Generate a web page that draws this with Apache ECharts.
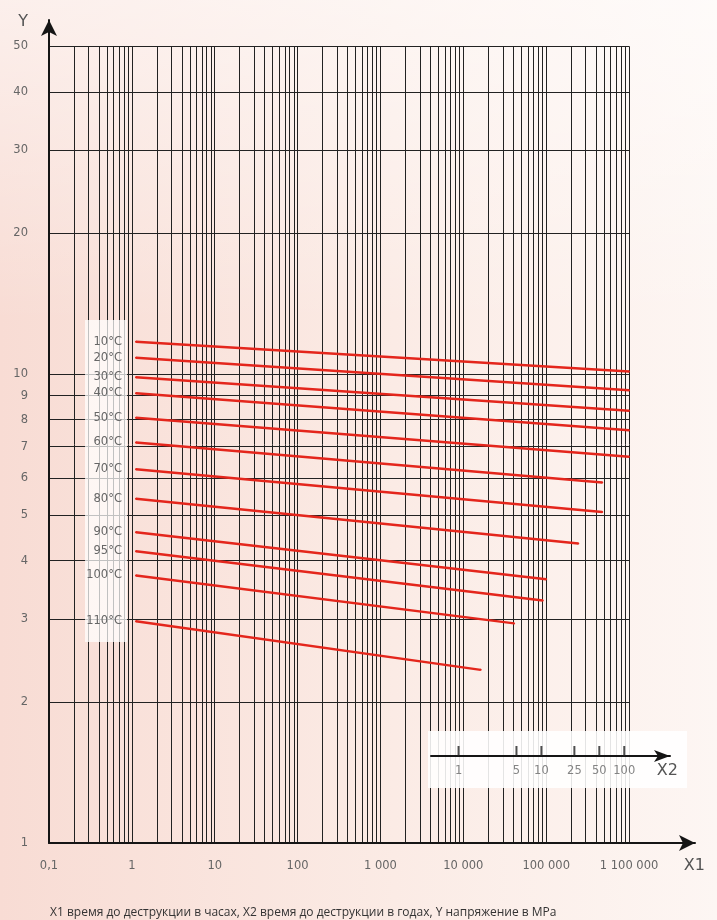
<!DOCTYPE html>
<html>
<head>
<meta charset="utf-8">
<script src="https://cdn.jsdelivr.net/npm/echarts@6/dist/echarts.min.js"></script>
<style>
html,body{margin:0;padding:0;}
#c{width:717px;height:920px;
background:
 linear-gradient(to bottom, rgba(255,255,255,0.55) 0%, rgba(255,255,255,0) 35%),
 linear-gradient(to right, #f8dcd4 0%, #fbebe5 55%, #fdf6f3 100%);}
</style>
</head>
<body>
<div id="c"></div>
<script>
// ---- data ----
const temperatures = ['10°C','20°C','30°C','40°C','50°C','60°C','70°C','80°C','90°C','95°C','100°C','110°C'];
const lineStartHours = [1.12,1.12,1.12,1.12,1.12,1.12,1.12,1.12,1.12,1.12,1.12,1.12];
const lineStartMPa   = [11.72,10.83,9.85,9.10,8.07,7.15,6.27,5.42,4.60,4.19,3.72,2.97];
const lineEndHours   = [1000000,1000000,1000000,1000000,1000000,475000,475000,244000,100000,91000,41000,16200];
const lineEndMPa     = [10.13,9.24,8.35,7.59,6.66,5.87,5.08,4.35,3.65,3.29,2.94,2.34];

const xTickValues = [0.1,1,10,100,1000,10000,100000,1000000];
const xTickLabels = ['0,1','1','10','100','1 000','10 000','100 000','1 100 000'];
const yGridValues = [1,2,3,4,5,6,7,8,9,10,20,30,40,50];
const yTickLabels = ['1','2','3','4','5','6','7','8','9','10','20','30','40','50'];
const gridDecades = [0.1,1,10,100,1000,10000,100000];
const gridMultipliers = [1,2,3,4,5,6,7,8,9];
const x2TickYears = [1,5,10,25,50,100];
const x2TickLabels = ['1','5','10','25','50','100'];

// ---- chart ----
const FONT = 'DejaVu Sans';
const RED = '#e4261c';
const GRIDC = '#222';
const LABC = '#666';
const xMin = 0.1, xMax = 6.25e6, yMin = 1, yMax = 56.9;
const x2Min = 0.465, x2Max = 356.5;

const verticalLines = [];
gridDecades.forEach(d => gridMultipliers.forEach(m => {
  verticalLines.push([{coord:[d*m, yMin]},{coord:[d*m, 50]}]);
}));
verticalLines.push([{coord:[1000000, yMin]},{coord:[1000000, 50]}]);

const horizontalLines = yGridValues.map((v,i) => [
  {name: yTickLabels[i], coord:[xMin, v]}, {coord:[1000000, v]}
]);

const chart = echarts.init(document.getElementById('c'), null, {renderer:'canvas'});

const series = [
  {
    type:'line', data:[], xAxisIndex:0, yAxisIndex:0, z:1, silent:true,
    markLine:{
      z:1, silent:true, symbol:['none','none'], animation:false,
      lineStyle:{color:GRIDC, width:1, type:'solid'},
      label:{show:false},
      emphasis:{disabled:true},
      data: verticalLines
    }
  },
  {
    type:'line', data:[], xAxisIndex:0, yAxisIndex:0, z:1, silent:true,
    markLine:{
      z:1, silent:true, symbol:['none','none'], animation:false,
      lineStyle:{color:GRIDC, width:1, type:'solid'},
      label:{show:true, position:'start', distance:21, formatter:'{b}', color:LABC, fontSize:11.5, fontFamily:FONT},
      emphasis:{disabled:true},
      data: horizontalLines
    }
  }
];

temperatures.forEach((t,i) => {
  series.push({
    type:'line', name:t, z:6, silent:true, animation:false,
    xAxisIndex:0, yAxisIndex:0,
    data:[[lineStartHours[i], lineStartMPa[i]],[lineEndHours[i], lineEndMPa[i]]],
    symbol:'circle', symbolSize:2, showSymbol:true,
    lineStyle:{color:RED, width:2.5},
    itemStyle:{color:RED},
    label:{show:true, position:'left', distance:13, color:LABC, fontSize:11.5, fontFamily:FONT,
      formatter: p => p.dataIndex === 0 ? p.seriesName : ''}
  });
});

series.push({
  type:'scatter', xAxisIndex:1, yAxisIndex:1, z:10, silent:true, animation:false,
  data: x2TickYears.map((v,i) => ({value:[v,0.5], name:x2TickLabels[i]})),
  symbol:'rect', symbolSize:[2,10],
  itemStyle:{color:'#222'},
  label:{show:true, position:'bottom', distance:9, formatter:'{b}', color:LABC, fontSize:11.5, fontFamily:FONT}
});

chart.setOption({
  animation:false,
  textStyle:{fontFamily:FONT},
  title:{
    text:'X1 время до деструкции в часах, X2 время до деструкции в годах, Y напряжение в MPa',
    left:45, top:902,
    textStyle:{fontSize:12, fontWeight:'normal', color:'#333', fontFamily:'Open Sans'}
  },
  graphic:[
    {type:'rect', z:3, shape:{x:85, y:320, width:42, height:322}, style:{fill:'rgba(255,255,255,0.72)'}, silent:true},
    {type:'rect', z:3, shape:{x:428, y:731, width:259, height:57}, style:{fill:'rgba(255,255,255,0.88)'}, silent:true}
  ],
  grid:[
    {left:49, right:22, top:20, bottom:77},
    {left:431, right:47, top:746, height:10}
  ],
  xAxis:[
    {
      type:'log', gridIndex:0, min:xMin, max:xMax, z:4,
      name:'X1', nameLocation:'end', nameGap:10,
      nameTextStyle:{fontSize:16, color:'#555', align:'right', verticalAlign:'top', padding:[15,0,0,0], fontFamily:FONT},
      axisLine:{show:true, lineStyle:{color:'#151515', width:2}, symbol:['none','arrow'], symbolSize:[12,16]},
      axisTick:{show:false},
      splitLine:{show:false},
      axisLabel:{show:true, interval:0, margin:17, color:LABC, fontSize:11.5, fontFamily:FONT,
        showMaxLabel:true, showMinLabel:true,
        formatter: v => {
          const l = Math.log10(v);
          if (Math.abs(l - Math.round(l)) > 1e-6) return '';
          const idx = xTickValues.findIndex(t => Math.abs(Math.log10(t) - l) < 1e-6);
          return idx >= 0 ? xTickLabels[idx] : '';
        }}
    },
    {
      type:'log', gridIndex:1, min:x2Min, max:x2Max, z:10,
      name:'X2', nameLocation:'end', nameGap:8,
      nameTextStyle:{fontSize:16, color:'#555', align:'right', verticalAlign:'top', padding:[7,0,0,0], fontFamily:FONT},
      axisLine:{show:true, lineStyle:{color:'#151515', width:2}, symbol:['none','arrow'], symbolSize:[9,16]},
      axisTick:{show:false}, axisLabel:{show:false}, splitLine:{show:false}
    }
  ],
  yAxis:[
    {
      type:'log', gridIndex:0, min:yMin, max:yMax, z:4,
      name:'Y', nameLocation:'end', nameGap:-2,
      nameTextStyle:{fontSize:16, color:'#555', align:'right', verticalAlign:'middle', padding:[0,21,0,0], fontFamily:FONT},
      axisLine:{show:true, lineStyle:{color:'#151515', width:2}, symbol:['none','arrow'], symbolSize:[12,16]},
      axisTick:{show:false}, axisLabel:{show:false}, splitLine:{show:false}
    },
    {
      type:'value', gridIndex:1, min:0, max:1, show:false
    }
  ],
  series: series
});
</script>
</body>
</html>
